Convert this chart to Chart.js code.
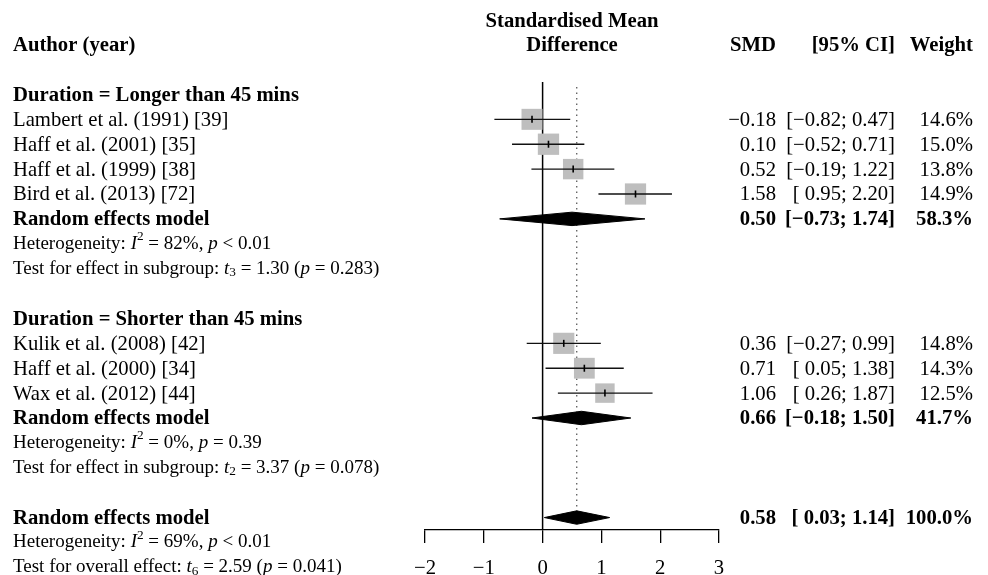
<!DOCTYPE html>
<html>
<head>
<meta charset="utf-8">
<script src="https://cdn.jsdelivr.net/npm/chart.js@4.4.1/dist/chart.umd.min.js"></script>
<style>
  html, body { margin: 0; padding: 0; background: #fff; }
  #wrap { width: 988px; height: 575px; position: relative; }
</style>
</head>
<body>
<div id="wrap"><canvas id="forest"></canvas></div>
<script>
// study level data
var studies = ["Lambert et al. (1991) [39]", "Haff et al. (2001) [35]", "Haff et al. (1999) [38]", "Bird et al. (2013) [72]",
               "Kulik et al. (2008) [42]", "Haff et al. (2000) [34]", "Wax et al. (2012) [44]"];
var smd = [-0.18, 0.10, 0.52, 1.58, 0.36, 0.71, 1.06];
var lower = [-0.82, -0.52, -0.19, 0.95, -0.27, 0.05, 0.26];
var upper = [0.47, 0.71, 1.22, 2.20, 0.99, 1.38, 1.87];
var weight = [14.6, 15.0, 13.8, 14.9, 14.8, 14.3, 12.5];
var studyRow = [3, 4, 5, 6, 12, 13, 14];

// pooled (random effects) estimates: subgroup 1, subgroup 2, overall
var poolEst = [0.50, 0.66, 0.58];
var poolLower = [-0.73, -0.18, 0.03];
var poolUpper = [1.74, 1.50, 1.14];
var poolWeight = [58.3, 41.7, 100.0];
var poolRow = [7, 15, 19];

var groupLabels = ["Duration = Longer than 45 mins", "Duration = Shorter than 45 mins"];
var groupRow = [2, 11];

var xTicks = [-2, -1, 0, 1, 2, 3];
var overallEffect = 0.58;

var serif = '"Liberation Serif", "Times New Roman", serif';
var fontMain = 20.7;
var fontStat = 19;

function fmt(v) {
  return (v < 0 ? "\u2212" : "") + Math.abs(v).toFixed(2);
}
function ci(lo, hi) {
  var a = lo < 0 ? fmt(lo) : " " + fmt(lo);
  return "[" + a + "; " + fmt(hi) + "]";
}

// heterogeneity / test lines, pieces: [text, style]  style: n normal, i italic, sup, sub
var statLines = [
  { row: 8, parts: [["Heterogeneity: ", "n"], ["I", "i"], ["2", "sup"], [" = 82%, ", "n"], ["p", "i"], [" < 0.01", "n"]] },
  { row: 9, parts: [["Test for effect in subgroup: ", "n"], ["t", "i"], ["3", "sub"], [" = 1.30 (", "n"], ["p", "i"], [" = 0.283)", "n"]] },
  { row: 16, parts: [["Heterogeneity: ", "n"], ["I", "i"], ["2", "sup"], [" = 0%, ", "n"], ["p", "i"], [" = 0.39", "n"]] },
  { row: 17, parts: [["Test for effect in subgroup: ", "n"], ["t", "i"], ["2", "sub"], [" = 3.37 (", "n"], ["p", "i"], [" = 0.078)", "n"]] },
  { row: 20, parts: [["Heterogeneity: ", "n"], ["I", "i"], ["2", "sup"], [" = 69%, ", "n"], ["p", "i"], [" < 0.01", "n"]] },
  { row: 21, parts: [["Test for overall effect: ", "n"], ["t", "i"], ["6", "sub"], [" = 2.59 (", "n"], ["p", "i"], [" = 0.041)", "n"]] }
];

var xLeft = 13, xSMD = 776, xCI = 895, xW = 973;
var diamondHalf = 0.27;

var datasets = [];

// reference lines
datasets.push({
  data: [{ x: 0, y: 1.5 }, { x: 0, y: 19.5 }],
  showLine: true, borderColor: "#000", borderWidth: 1.5, pointRadius: 0, order: 9
});
datasets.push({
  data: [{ x: overallEffect, y: 1.7 }, { x: overallEffect, y: 18.8 }],
  showLine: true, borderColor: "#666", borderWidth: 1.4, borderDash: [1.5, 4], pointRadius: 0, order: 9
});

// squares
datasets.push({
  data: smd.map(function (v, i) { return { x: v, y: studyRow[i] }; }),
  pointStyle: "rect",
  pointRadius: weight.map(function (w) { return 5.5 * Math.sqrt(w) / Math.SQRT2; }),
  backgroundColor: "#bebebe", borderWidth: 0, order: 7
});

// confidence intervals
smd.forEach(function (v, i) {
  datasets.push({
    data: [{ x: lower[i], y: studyRow[i] }, { x: upper[i], y: studyRow[i] }],
    showLine: true, borderColor: "#111", borderWidth: 1.4, pointRadius: 0, order: 5
  });
});

// little tick at the point estimate
datasets.push({
  data: smd.map(function (v, i) { return { x: v, y: studyRow[i] }; }),
  pointStyle: "line", rotation: 90, pointRadius: 3.5,
  borderColor: "#000", borderWidth: 1.6, order: 1
});

// diamonds
poolEst.forEach(function (v, i) {
  var r = poolRow[i];
  datasets.push({
    data: [{ x: poolLower[i], y: r }, { x: v, y: r - diamondHalf }, { x: poolUpper[i], y: r },
           { x: v, y: r + diamondHalf }, { x: poolLower[i], y: r }],
    showLine: true, fill: "shape", backgroundColor: "#000", borderColor: "#000",
    borderWidth: 1, pointRadius: 0, tension: 0, order: 2
  });
});

function drawParts(ctx, parts, x, y, size) {
  parts.forEach(function (p) {
    var t = p[0], s = p[1], f = size, dy = 0, style = "";
    if (s === "i") style = "italic ";
    if (s === "sup") { f = size * 0.7; dy = -size * 0.38; }
    if (s === "sub") { f = size * 0.7; dy = size * 0.22; }
    ctx.font = style + f + "px " + serif;
    ctx.fillText(t, x, y + dy);
    x += ctx.measureText(t).width;
  });
}

var textPlugin = {
  id: "forestText",
  afterDraw: function (chart) {
    var ctx = chart.ctx;
    var ys = chart.scales.y;
    var yOf = function (r) { return ys.getPixelForValue(r) + 1; };
    ctx.save();
    ctx.fillStyle = "#000";
    ctx.textBaseline = "middle";

    var bold = "bold " + fontMain + "px " + serif;
    var norm = fontMain + "px " + serif;

    // headers
    ctx.font = bold;
    ctx.textAlign = "left";
    ctx.fillText("Author (year)", xLeft, yOf(0));
    ctx.textAlign = "center";
    var xc = (chart.chartArea.left + chart.chartArea.right) / 2;
    ctx.fillText("Standardised Mean", xc, yOf(-0.95));
    ctx.fillText("Difference", xc, yOf(0));
    ctx.textAlign = "right";
    ctx.fillText("SMD", xSMD, yOf(0));
    ctx.fillText("[95% CI]", xCI, yOf(0));
    ctx.fillText("Weight", xW, yOf(0));

    // subgroup labels
    ctx.textAlign = "left";
    groupLabels.forEach(function (g, i) { ctx.fillText(g, xLeft, yOf(groupRow[i])); });

    // studies
    studies.forEach(function (s, i) {
      var y = yOf(studyRow[i]);
      ctx.font = norm;
      ctx.textAlign = "left";
      ctx.fillText(s, xLeft, y);
      ctx.textAlign = "right";
      ctx.fillText(fmt(smd[i]), xSMD, y);
      ctx.fillText(ci(lower[i], upper[i]), xCI, y);
      ctx.fillText(weight[i].toFixed(1) + "%", xW, y);
    });

    // pooled rows
    poolEst.forEach(function (v, i) {
      var y = yOf(poolRow[i]);
      ctx.font = bold;
      ctx.textAlign = "left";
      ctx.fillText("Random effects model", xLeft, y);
      ctx.textAlign = "right";
      ctx.fillText(fmt(v), xSMD, y);
      ctx.fillText(ci(poolLower[i], poolUpper[i]), xCI, y);
      ctx.fillText(poolWeight[i].toFixed(1) + "%", xW, y);
    });

    // statistics
    ctx.textAlign = "left";
    statLines.forEach(function (l) { drawParts(ctx, l.parts, xLeft, yOf(l.row) - 1, fontStat); });
    ctx.restore();
  }
};

new Chart(document.getElementById("forest"), {
  type: "scatter",
  data: { datasets: datasets },
  plugins: [textPlugin],
  options: {
    responsive: true,
    maintainAspectRatio: false,
    animation: false,
    clip: false,
    layout: { padding: { left: 425, right: 269, top: 82, bottom: 0 } },
    plugins: { legend: { display: false }, tooltip: { enabled: false } },
    scales: {
      x: {
        type: "linear", min: -2, max: 3,
        afterBuildTicks: function (s) { s.ticks = xTicks.map(function (v) { return { value: v }; }); },
        afterFit: function (s) { s.height = 45; },
        border: { color: "#000", width: 1.3 },
        grid: { drawOnChartArea: false, drawTicks: true, tickLength: 13, color: "#000", tickColor: "#000", lineWidth: 1.3 },
        ticks: {
          color: "#000", padding: 13, maxRotation: 0,
          font: { family: serif, size: fontMain },
          callback: function (v) { return v < 0 ? "\u2212" + Math.abs(v) : String(v); }
        }
      },
      y: { type: "linear", min: 1.5, max: 19.5, reverse: true, display: false }
    }
  }
});
</script>
</body>
</html>
